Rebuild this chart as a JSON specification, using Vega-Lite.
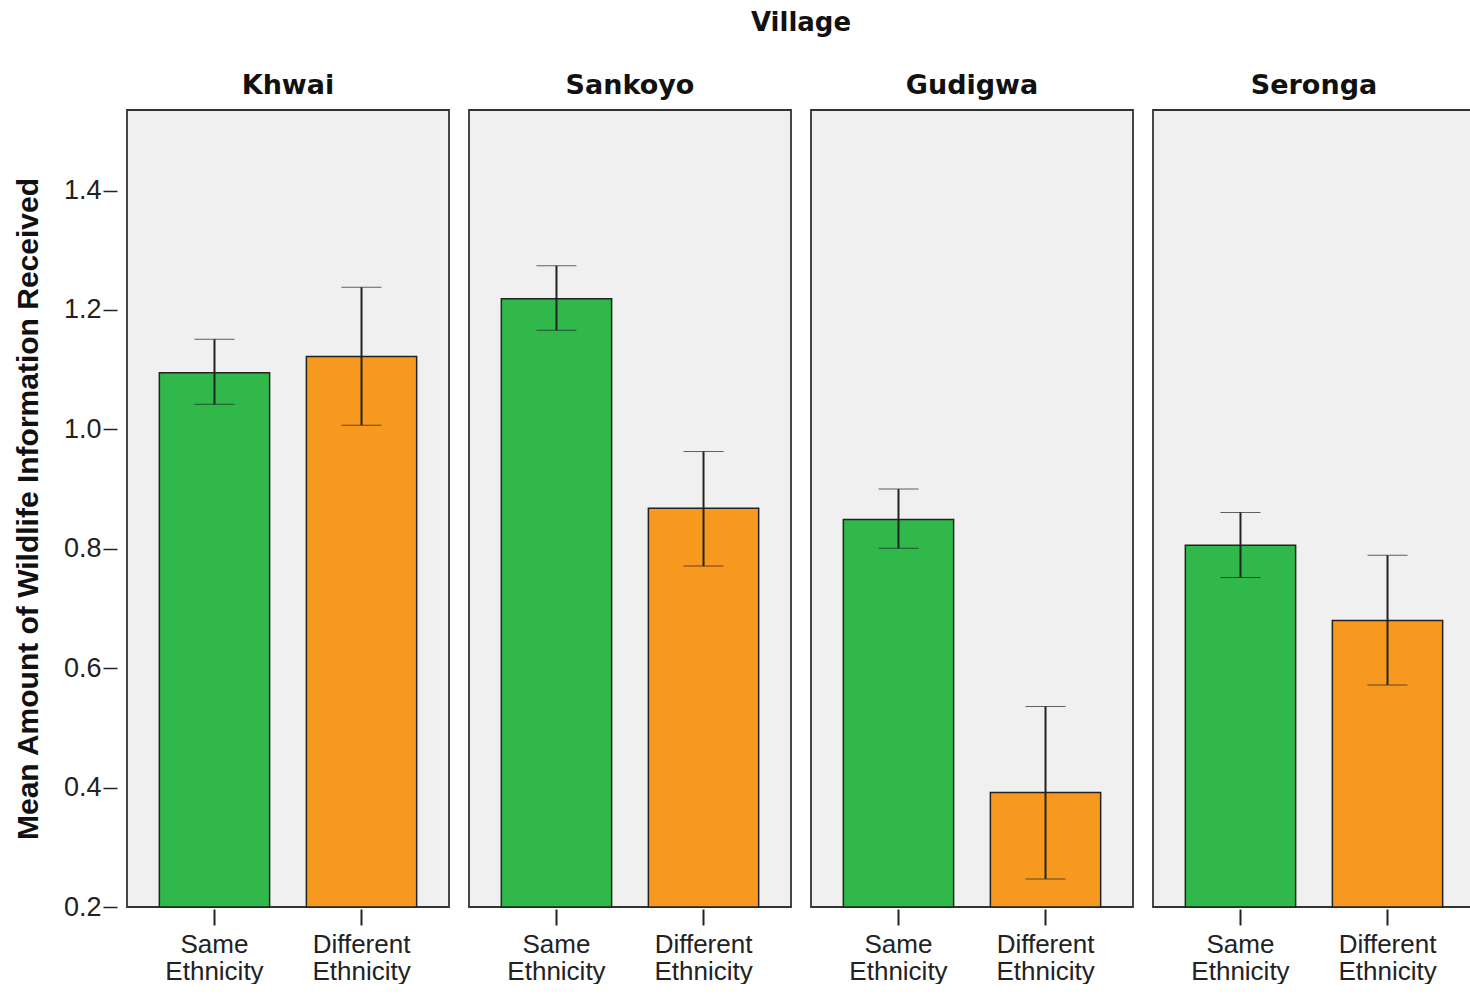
{
  "$schema": "https://vega.github.io/schema/vega-lite/v6.json",
  "padding": {"left": 13, "top": 10, "right": 0, "bottom": 0},
  "background": "white",
  "data": {
    "values": [
      {"Village": "Khwai", "Ethnicity": "Same Ethnicity", "Mean": 1.095, "Lower": 1.042, "Upper": 1.151},
      {"Village": "Khwai", "Ethnicity": "Different Ethnicity", "Mean": 1.122, "Lower": 1.007, "Upper": 1.238},
      {"Village": "Sankoyo", "Ethnicity": "Same Ethnicity", "Mean": 1.219, "Lower": 1.166, "Upper": 1.274},
      {"Village": "Sankoyo", "Ethnicity": "Different Ethnicity", "Mean": 0.868, "Lower": 0.771, "Upper": 0.963},
      {"Village": "Gudigwa", "Ethnicity": "Same Ethnicity", "Mean": 0.849, "Lower": 0.801, "Upper": 0.900},
      {"Village": "Gudigwa", "Ethnicity": "Different Ethnicity", "Mean": 0.392, "Lower": 0.247, "Upper": 0.536},
      {"Village": "Seronga", "Ethnicity": "Same Ethnicity", "Mean": 0.806, "Lower": 0.752, "Upper": 0.861},
      {"Village": "Seronga", "Ethnicity": "Different Ethnicity", "Mean": 0.680, "Lower": 0.572, "Upper": 0.789}
    ]
  },
  "facet": {
    "column": {
      "field": "Village",
      "type": "nominal",
      "sort": ["Khwai", "Sankoyo", "Gudigwa", "Seronga"],
      "header": {
        "title": "Village",
        "titleFont": "DejaVu Sans",
        "titleFontWeight": "bold",
        "titleFontSize": 26,
        "titleColor": "#111",
        "titlePadding": 26,
        "labelFont": "DejaVu Sans",
        "labelFontWeight": "bold",
        "labelFontSize": 27,
        "labelColor": "#111",
        "labelPadding": 9
      }
    }
  },
  "spacing": 18,
  "spec": {
    "width": 322,
    "height": 797,
    "view": {"fill": "#f0f0f0", "stroke": "#333333", "strokeWidth": 1.8},
    "encoding": {
      "x": {
        "field": "Ethnicity",
        "type": "nominal",
        "sort": ["Same Ethnicity", "Different Ethnicity"],
        "scale": {"paddingInner": 0.25, "paddingOuter": 0.22},
        "axis": {
          "title": null,
          "labelAngle": 0,
          "labelExpr": "split(datum.label, ' ')",
          "labelFont": "Liberation Sans",
          "labelFontSize": 26,
          "labelLineHeight": 27,
          "labelColor": "#222",
          "labelPadding": 6,
          "tickSize": 16,
          "tickWidth": 2,
          "tickColor": "#222",
          "domain": false
        }
      }
    },
    "layer": [
      {
        "mark": {"type": "bar", "stroke": "#222222", "strokeWidth": 1.5},
        "encoding": {
          "y": {
            "field": "Mean",
            "type": "quantitative",
            "scale": {"domain": [0.2, 1.535], "nice": false, "zero": false},
            "axis": {
              "title": "Mean Amount of Wildlife Information Received",
              "titleFont": "Liberation Sans",
              "titleFontWeight": "bold",
              "titleFontSize": 30,
              "titleColor": "#111",
              "titlePadding": 20,
              "values": [0.2, 0.4, 0.6, 0.8, 1.0, 1.2, 1.4],
              "format": ".1f",
              "labelFont": "Liberation Sans",
              "labelFontSize": 27,
              "labelColor": "#222",
              "labelPadding": 2,
              "tickSize": 14,
              "tickWidth": 1.5,
              "tickColor": "#222",
              "offset": 9,
              "domain": false,
              "grid": false
            }
          },
          "y2": {"datum": 0.2},
          "color": {
            "field": "Ethnicity",
            "type": "nominal",
            "scale": {"domain": ["Same Ethnicity", "Different Ethnicity"], "range": ["#30b94a", "#f7991e"]},
            "legend": null
          }
        }
      },
      {
        "mark": {
          "type": "errorbar",
          "color": "#222222",
          "ticks": {"size": 40, "strokeWidth": 2, "color": "#222222"},
          "rule": {"strokeWidth": 2}
        },
        "encoding": {
          "y": {
            "field": "Lower",
            "type": "quantitative",
            "scale": {"domain": [0.2, 1.535], "nice": false, "zero": false},
            "title": "Mean Amount of Wildlife Information Received"
          },
          "y2": {"field": "Upper"}
        }
      }
    ]
  }
}
